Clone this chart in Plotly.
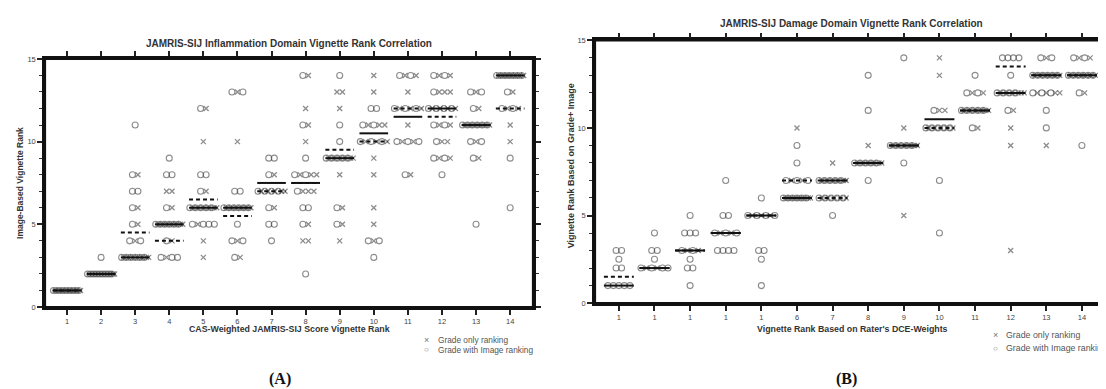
import plotly.graph_objects as go

W, H = 1106, 389

# ---------------- data ----------------
# (vignette column, rank, number of raters)
A_GRADE_ONLY = [
    (1, 1, 8), (2, 2, 10),
    (3, 3, 7), (3, 4, 1), (3, 5, 1), (3, 6, 1), (3, 8, 1),
    (4, 3, 1), (4, 4, 1), (4, 5, 7), (4, 6, 1), (4, 7, 2),
    (5, 3, 1), (5, 4, 1), (5, 5, 1), (5, 6, 6), (5, 7, 1), (5, 10, 1), (5, 12, 1),
    (6, 3, 1), (6, 4, 1), (6, 6, 6), (6, 10, 1), (6, 13, 1),
    (7, 6, 1), (7, 7, 5), (7, 8, 1),
    (8, 4, 2), (8, 5, 1), (8, 7, 3), (8, 8, 3), (8, 10, 1), (8, 11, 1), (8, 12, 1), (8, 14, 1),
    (9, 4, 1), (9, 5, 1), (9, 6, 1), (9, 8, 1), (9, 9, 6), (9, 12, 1), (9, 13, 2),
    (10, 4, 1), (10, 5, 1), (10, 6, 1), (10, 8, 1), (10, 9, 1), (10, 10, 3), (10, 11, 3), (10, 13, 1), (10, 14, 1),
    (11, 8, 1), (11, 10, 2), (11, 11, 1), (11, 12, 3), (11, 13, 1), (11, 14, 2),
    (12, 9, 2), (12, 10, 2), (12, 11, 2), (12, 12, 4), (12, 13, 3), (12, 14, 2),
    (13, 9, 1), (13, 10, 1), (13, 11, 6), (13, 12, 1), (13, 13, 1),
    (14, 10, 1), (14, 11, 1), (14, 12, 2), (14, 13, 1), (14, 14, 7),
]
A_GRADE_IMAGE = [
    (1, 1, 8), (2, 2, 9), (2, 3, 1),
    (3, 3, 6), (3, 4, 2), (3, 5, 1), (3, 6, 1), (3, 7, 2), (3, 8, 1), (3, 11, 1),
    (4, 3, 3), (4, 4, 1), (4, 5, 6), (4, 6, 1), (4, 8, 2), (4, 9, 1),
    (5, 5, 4), (5, 6, 5), (5, 7, 1), (5, 8, 2), (5, 12, 1),
    (6, 3, 1), (6, 4, 2), (6, 5, 1), (6, 6, 6), (6, 7, 2), (6, 13, 2),
    (7, 4, 1), (7, 5, 2), (7, 6, 1), (7, 7, 4), (7, 8, 1), (7, 9, 2),
    (8, 2, 1), (8, 5, 1), (8, 6, 2), (8, 7, 1), (8, 8, 2), (8, 9, 1), (8, 11, 1), (8, 14, 1),
    (9, 5, 1), (9, 6, 1), (9, 9, 5), (9, 10, 1), (9, 11, 1), (9, 14, 1),
    (10, 3, 1), (10, 4, 2), (10, 10, 3), (10, 11, 2), (10, 12, 2),
    (11, 8, 1), (11, 10, 3), (11, 12, 3), (11, 14, 2),
    (12, 8, 1), (12, 9, 2), (12, 10, 1), (12, 11, 2), (12, 12, 4), (12, 13, 1), (12, 14, 2),
    (13, 5, 1), (13, 9, 1), (13, 10, 2), (13, 11, 6), (13, 12, 1), (13, 13, 2),
    (14, 6, 1), (14, 9, 1), (14, 12, 2), (14, 13, 1), (14, 14, 7),
]
A_SOLID = [1, 2, 3, 5, 6, 6, 7.5, 7.5, 9, 10.5, 11.5, 12, 11, 14]
A_DASHED = [1, 2, 4.5, 4, 6.5, 5.5, 7, 7.5, 9.5, 10, 12, 11.5, 11, 12]
A_TICKS = [str(i) for i in range(1, 15)]

B_GRADE_ONLY = [
    (2, 2, 2), (3, 3, 2), (4, 4, 2), (5, 5, 3),
    (6, 6, 7), (6, 7, 2), (6, 10, 1),
    (7, 6, 5), (7, 7, 6), (7, 8, 1),
    (8, 8, 6), (8, 9, 1),
    (9, 5, 1), (9, 9, 6), (9, 10, 1),
    (10, 10, 5), (10, 11, 2), (10, 13, 1), (10, 14, 1),
    (11, 10, 1), (11, 11, 6), (11, 12, 2),
    (12, 3, 1), (12, 9, 1), (12, 10, 1), (12, 11, 1), (12, 12, 6),
    (13, 9, 1), (13, 12, 4), (13, 13, 6), (13, 14, 1),
    (14, 12, 1), (14, 13, 6), (14, 14, 2),
]
B_GRADE_IMAGE = [
    (1, 1, 5), (1, 2, 2), (1, 2.5, 1), (1, 3, 2),
    (2, 2, 4), (2, 2.5, 1), (2, 3, 2), (2, 4, 1),
    (3, 1, 1), (3, 2, 2), (3, 2.5, 1), (3, 3, 2), (3, 4, 3), (3, 5, 1),
    (4, 3, 4), (4, 4, 3), (4, 5, 2), (4, 7, 1),
    (5, 1, 1), (5, 2.5, 1), (5, 3, 2), (5, 5, 4), (5, 6, 1),
    (6, 6, 6), (6, 7, 3), (6, 8, 1), (6, 9, 1),
    (7, 5, 1), (7, 6, 5), (7, 7, 5),
    (8, 7, 1), (8, 8, 5), (8, 11, 1), (8, 13, 1),
    (9, 8, 1), (9, 9, 5), (9, 14, 1),
    (10, 4, 1), (10, 7, 1), (10, 10, 5), (10, 11, 1),
    (11, 10, 1), (11, 11, 5), (11, 12, 2), (11, 13, 1),
    (12, 11, 1), (12, 12, 4), (12, 13, 1), (12, 14, 4),
    (13, 10, 1), (13, 11, 1), (13, 12, 3), (13, 13, 6), (13, 14, 2),
    (14, 9, 1), (14, 12, 1), (14, 13, 6), (14, 14, 2),
]
B_SOLID = [1, 2, 3, 4, 5, 6, 7, 8, 9, 10.5, 11, 12, 13, 13]
B_DASHED = [1.5, 2, 3, 4, 5, 7, 6, 8, 9, 10, 11, 13.5, 13, 13]
B_TICKS = ["1", "1", "1", "1", "1"] + [str(i) for i in range(6, 15)]

# ---------------- layout helpers ----------------
MARK_COL = "rgba(70,70,70,0.62)"
FONT = "Liberation Sans, Arial, sans-serif"


def spread(only, image, px_per_unit):
    groups = {}
    for c, r, n in only:
        groups.setdefault((c, r), [0, 0])[0] += n
    for c, r, n in image:
        groups.setdefault((c, r), [0, 0])[1] += n
    out = {"x": ([], []), "o": ([], [])}
    for (c, r), (nx, no) in groups.items():
        seq = []
        i = j = 0
        while i < nx or j < no:
            if j < no:
                seq.append("o"); j += 1
            if i < nx:
                seq.append("x"); i += 1
        n = len(seq)
        step = 5.5 if n <= 1 else min(5.5, 27.0 / (n - 1))
        for k, t in enumerate(seq):
            off = (k - (n - 1) / 2) * step / px_per_unit
            out[t][0].append(c + off)
            out[t][1].append(r)
    return out


def segs(vals, half):
    xs, ys = [], []
    for i, v in enumerate(vals):
        c = i + 1
        xs += [c - half, c + half, None]
        ys += [v, v, None]
    return xs, ys


fig = go.Figure()

panels = [
    ("x", "y", A_GRADE_ONLY, A_GRADE_IMAGE, A_SOLID, A_DASHED, 34.08),
    ("x2", "y2", B_GRADE_ONLY, B_GRADE_IMAGE, B_SOLID, B_DASHED, 35.6),
]
for xa, ya, only, image, solid, dashed, ppu in panels:
    pts = spread(only, image, ppu)
    fig.add_trace(go.Scatter(x=pts["o"][0], y=pts["o"][1], xaxis=xa, yaxis=ya, mode="markers",
                             marker=dict(symbol="circle-open", size=6, color=MARK_COL,
                                         line=dict(width=1.1, color=MARK_COL)),
                             showlegend=False, hoverinfo="skip"))
    fig.add_trace(go.Scatter(x=pts["x"][0], y=pts["x"][1], xaxis=xa, yaxis=ya, mode="markers",
                             marker=dict(symbol="x-thin-open", size=5, color=MARK_COL,
                                         line=dict(width=1.3, color=MARK_COL)),
                             showlegend=False, hoverinfo="skip"))
    sx, sy = segs(solid, 0.42)
    fig.add_trace(go.Scatter(x=sx, y=sy, xaxis=xa, yaxis=ya, mode="lines",
                             line=dict(color="#111", width=2), showlegend=False, hoverinfo="skip"))
    dx, dy = segs(dashed, 0.42)
    fig.add_trace(go.Scatter(x=dx, y=dy, xaxis=xa, yaxis=ya, mode="lines",
                             line=dict(color="#111", width=2, dash="4px,3px"),
                             showlegend=False, hoverinfo="skip"))

tickfont = dict(family=FONT, size=7.5, color="#444")
common_x = dict(tickmode="array", tickvals=list(range(1, 15)), showline=True, linewidth=2.5,
                linecolor="#111", mirror="allticks", ticks="outside", ticklen=5, tickwidth=1.5,
                tickcolor="#222", showgrid=False, zeroline=False, tickfont=tickfont)
common_y = dict(range=[0, 15], tickmode="array", tickvals=[0, 5, 10, 15], showline=True, linewidth=2.5,
                linecolor="#111", mirror="allticks", ticks="outside", ticklen=5, tickwidth=1.5,
                tickcolor="#222", showgrid=False, zeroline=False, tickfont=tickfont,
                minor=dict(tickmode="linear", tick0=0, dtick=1, ticks="outside", ticklen=3,
                           tickcolor="#333", tickwidth=1.2))

fig.update_layout(
    width=W, height=H, margin=dict(l=0, r=0, t=0, b=0),
    paper_bgcolor="white", plot_bgcolor="white",
    xaxis=dict(common_x, domain=[37 / W, 525 / W], range=[0.355, 14.67], ticktext=A_TICKS, anchor="y"),
    yaxis=dict(common_y, domain=[1 - 302 / H, 1 - 48 / H], anchor="x"),
    xaxis2=dict(common_x, domain=[587 / W, 1096 / W], range=[0.33, 14.62], ticktext=B_TICKS, anchor="y2"),
    yaxis2=dict(common_y, domain=[1 - 298 / H, 1 - 29 / H], anchor="x2"),
    showlegend=False,
)

# dark frame around each panel
for xr, yr in (("x domain", "y domain"), ("x2 domain", "y2 domain")):
    fig.add_shape(type="rect", xref=xr, yref=yr, x0=0, x1=1, y0=0, y1=1,
                  line=dict(color="#111", width=2.2), layer="above")

ann = []
def txt(x, y, s, size=8, bold=False, angle=0, xanchor="center", color="#333", family=FONT):
    ann.append(dict(x=x / W, y=1 - y / H, xref="paper", yref="paper", showarrow=False,
                    text=f"<b>{s}</b>" if bold else s, textangle=angle, xanchor=xanchor,
                    yanchor="middle", font=dict(family=family, size=size, color=color)))

txt(281, 32, "JAMRIS-SIJ Inflammation Domain Vignette Rank Correlation", size=10, bold=True)
txt(843, 12, "JAMRIS-SIJ Damage Domain Vignette Rank Correlation", size=10, bold=True)
txt(281, 324, "CAS-Weighted JAMRIS-SIJ Score Vignette Rank", size=8.8, bold=True)
txt(844, 324, "Vignette Rank Based on Rater's DCE-Weights", size=8.8, bold=True)
txt(12, 175, "Image-Based Vignette Rank", size=8.5, bold=True, angle=-90)
txt(563, 158, "Vignette Rank Based on Grade+ Image", size=9, bold=True, angle=-90)
# legend symbols + labels
txt(418, 336, "×", size=9, color="#777")
txt(418, 346, "○", size=8, color="#777")
txt(987, 331, "×", size=9, color="#777")
txt(987, 344, "○", size=8, color="#777")
txt(428, 336, "Grade only ranking", size=8.3, xanchor="left", color="#555")
txt(428, 346, "Grade with Image ranking", size=8.3, xanchor="left", color="#555")
txt(996, 331, "Grade only ranking", size=8.8, xanchor="left", color="#555")
txt(996, 344, "Grade with Image ranking", size=8.8, xanchor="left", color="#555")
txt(272, 376, "(A)", size=16, bold=True, color="#111", family="Liberation Serif, Times New Roman, serif")
txt(838, 376, "(B)", size=16, bold=True, color="#111", family="Liberation Serif, Times New Roman, serif")
fig.update_layout(annotations=ann)

fig.write_html("out.html")
